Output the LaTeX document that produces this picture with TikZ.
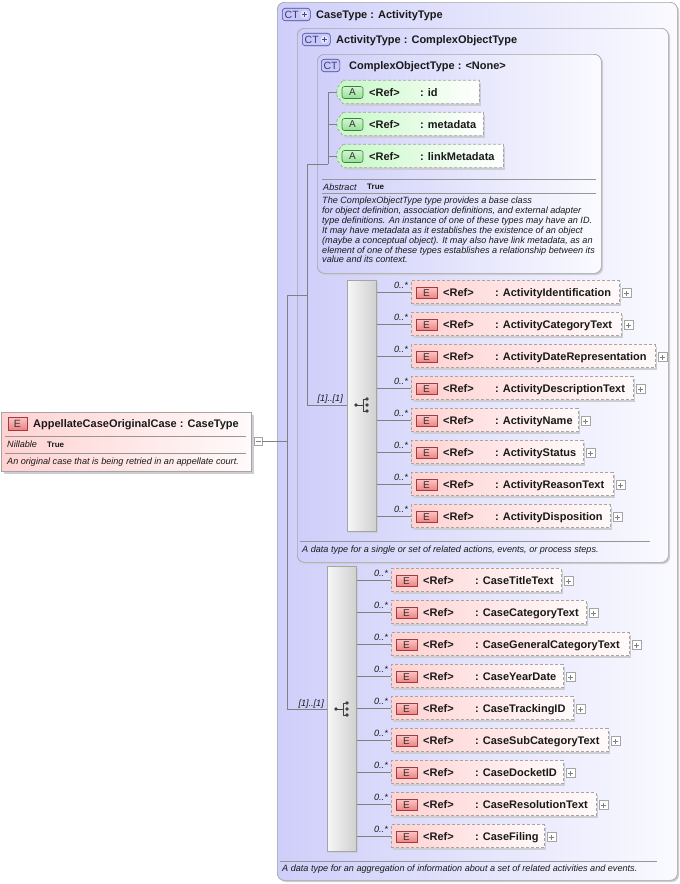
\documentclass[tikz,border=0pt]{standalone}
\usepackage{fontspec}
\setmainfont{Liberation Sans}
\usetikzlibrary{calc}
\definecolor{lav}{RGB}{206,206,250}
\definecolor{lavw}{RGB}{250,250,255}
\definecolor{pinkf}{RGB}{255,210,210}
\definecolor{pinkw}{RGB}{255,250,250}
\definecolor{greenf}{RGB}{198,248,198}
\definecolor{bord}{RGB}{165,165,165}
\definecolor{shad}{RGB}{205,205,210}
\definecolor{ebadgeT}{RGB}{252,196,196}
\definecolor{ebadgeB}{RGB}{238,130,130}
\definecolor{ebord}{RGB}{160,60,60}
\definecolor{abadgeT}{RGB}{210,246,210}
\definecolor{abadgeB}{RGB}{150,222,150}
\definecolor{abord}{RGB}{60,130,60}
\definecolor{ctf}{RGB}{200,200,248}
\definecolor{ctb}{RGB}{70,70,150}
\definecolor{linec}{RGB}{128,128,128}
\definecolor{sepc}{RGB}{150,150,150}
\definecolor{txt}{RGB}{25,25,25}
\definecolor{seqL}{RGB}{246,246,246}
\definecolor{seqR}{RGB}{208,208,208}
\begin{document}
\begin{tikzpicture}[x=1pt,y=-1pt,
  conn/.style={draw=linec, line width=0.7pt},
  sep/.style={draw=sepc, line width=0.7pt},
  typebox/.style={draw=bord, line width=0.7pt, rounded corners=7pt, left color=lav, right color=lavw, inner sep=0pt, anchor=north west},
  ebox/.style={draw=bord, line width=0.7pt, dash pattern=on 3pt off 2pt, left color=pinkf, right color=pinkw, inner sep=0pt, minimum height=23, anchor=west},
  ebadge/.style={draw=ebord, line width=0.6pt, top color=ebadgeT, bottom color=ebadgeB, minimum width=21, minimum height=11, inner sep=0pt, font=\fontsize{10}{10}\selectfont, text=black!80},
  abadge/.style={draw=abord, line width=0.6pt, rounded corners=2.5pt, top color=abadgeT, bottom color=abadgeB, minimum width=21, minimum height=12, inner sep=0pt, font=\fontsize{10}{10}\selectfont, text=black!80},
  ctbadge/.style={draw=ctb, line width=0.6pt, rounded corners=3pt, fill=ctf, minimum height=12.5, inner sep=0pt},
  cttext/.style={font=\fontsize{10.5}{10.5}\selectfont, text=ctb!80!black, inner sep=0pt},
  adash/.style={draw=bord, line width=0.7pt, dash pattern=on 3pt off 2pt, left color=greenf, right color=white},
  seqbox/.style={draw=bord, line width=0.7pt, left color=seqL, right color=seqR, inner sep=0pt, minimum width=29, anchor=north west},
  plusbox/.style={draw=bord, line width=0.5pt, fill=white, minimum size=9, inner sep=0pt},
  bold/.style={font=\fontsize{11}{13}\selectfont\bfseries, text=txt, inner sep=0pt},
  sbold/.style={font=\fontsize{8}{9}\selectfont\bfseries, text=txt, inner sep=0pt},
  ital/.style={font=\fontsize{9.1}{10}\selectfont\itshape, text=txt, inner sep=0pt},
  icon/.style={draw=black!75, line width=0.8pt}
]
\useasboundingbox (0,0) rectangle (680,884);
\fill[white] (0,0) rectangle (680,884);

% ---------- type boxes ----------
\fill[shad, rounded corners=7pt] (279,4) rectangle (679,882);
\node[typebox, minimum width=400, minimum height=878] (caseT) at (277,2) {};
\fill[shad, rounded corners=7pt] (299,30) rectangle (670,564);
\node[typebox, minimum width=371, minimum height=534] (actT) at (297,28) {};
\fill[shad, rounded corners=7pt] (319,56) rectangle (603,275);
\node[typebox, minimum width=284, minimum height=219] (cotT) at (317,54) {};

% headers
\node[ctbadge, minimum width=28, anchor=west] (ctb1) at (282,14.5) {};
\node[cttext, anchor=west] (ctt1) at (284.5,15) {CT};
\fill[white!50!ctf] (304.5,14.5) circle (4);
\draw[ctb, line width=1.6pt] (301.8,14.5) -- (307.2,14.5) (304.5,11.8) -- (304.5,17.2);
\node[bold, anchor=base west] (h1) at (316,18) {CaseType : ActivityType};

\node[ctbadge, minimum width=28, anchor=west] (ctb2) at (302,39.5) {};
\node[cttext, anchor=west] (ctt2) at (304.5,40) {CT};
\fill[white!50!ctf] (324.5,39.5) circle (4);
\draw[ctb, line width=1.6pt] (321.8,39.5) -- (327.2,39.5) (324.5,36.8) -- (324.5,42.2);
\node[bold, anchor=base west] (h2) at (336,43.5) {ActivityType : ComplexObjectType};

\node[ctbadge, minimum width=18.5, anchor=west] (ctb3) at (321,65.5) {};
\node[cttext] (ctt3) at ($(ctb3.center)+(0,0.5)$) {CT};
\node[bold, anchor=base west] (h3) at (349,69.5) {ComplexObjectType : <None>};

% ---------- connectors skeleton ----------
\coordinate (v1t) at (287,295);
\coordinate (v1b) at (287,709);
\coordinate (v2t) at (307,164);
\coordinate (v2m) at (307,295);
\coordinate (v2b) at (307,405);
\coordinate (v3t) at (328,92);
\coordinate (v3b) at (328,164);

% ---------- root element ----------
\fill[shad] (4,415) rectangle (254,474);
\node[draw=bord, line width=0.7pt, left color=pinkf, right color=pinkw, minimum width=250, minimum height=59, anchor=north west, inner sep=0pt] (root) at (1,412) {};
\node[ebadge, minimum width=19, minimum height=13, font=\fontsize{10.5}{10.5}\selectfont] (rootb) at (17.5,423.5) {E};
\node[bold, anchor=base west] (roott) at (33,427) {AppellateCaseOriginalCase : CaseType};
\draw[sep] (5,436) -- (246,436);
\node[ital, anchor=base west] (nil) at (7,447.5) {Nillable};
\node[sbold, anchor=base west] (nilv) at (47,447) {True};
\draw[sep] (5,453) -- (246,453);
\node[ital, anchor=base west] (rootd) at (7,464.5) {An original case that is being retried in an appellate court.};
\node[plusbox, minimum size=8] (minus) at (258,441) {};
\draw[linec, line width=0.6pt] (255.5,441) -- (260.5,441);

\draw[conn] (minus.east) -- (minus.east -| v1t);
\draw[conn] (v1t) -- (v1b);
\draw[conn] (v1t) -- (v2m);
\draw[conn] (v2t) -- (v2b);
\draw[conn] (v2t) -- (v3b);
\draw[conn] (v3t) -- (v3b);

% ---------- attributes ----------
\foreach \cy/\r/\nm/\k in {92/479/id/1, 124/483/metadata/2, 156/503/linkMetadata/3}{
  \node[inner sep=0pt, minimum width={\r-337}, minimum height=23, anchor=west] (aa\k) at (337,\cy) {};
  \fill[shad] (345,\cy-9.5) -- (\r+2,\cy-9.5) -- (\r+2,\cy+13.5) -- (345,\cy+13.5) -- cycle;
  \draw[adash] ($(aa\k.north west)+(6,0)$) -- (aa\k.north east) -- (aa\k.south east) -- ($(aa\k.south west)+(6,0)$) -- ($(aa\k.west)+(0,4)$) -- ($(aa\k.west)+(0,-4)$) -- cycle;
  \node[abadge] (ab\k) at (352.5,\cy+0.5) {A};
  \node[bold, anchor=base west] (ar\k) at (369,\cy+4) {<Ref>};
  \node[bold, anchor=base west] (an\k) at (420,\cy+4) {: \nm};
  \draw[conn] (v3t |- aa\k.west) -- (aa\k.west);
}

% abstract
\draw[sep] (322,179) -- (596,179);
\node[ital, anchor=base west] (abs) at (323,190) {Abstract};
\node[sbold, anchor=base west] (absv) at (367,189.5) {True};
\draw[sep] (322,193) -- (596,193);
\node[ital, anchor=base west] (d1) at (322,203.5) {The ComplexObjectType type provides a base class};
\node[ital, anchor=base west] (d2) at (322,213.4) {for object definition, association definitions, and external adapter};
\node[ital, anchor=base west] (d3) at (322,223.3) {type definitions. An instance of one of these types may have an ID.};
\node[ital, anchor=base west] (d4) at (322,233.2) {It may have metadata as it establishes the existence of an object};
\node[ital, anchor=base west] (d5) at (322,243.1) {(maybe a conceptual object). It may also have link metadata, as an};
\node[ital, anchor=base west] (d6) at (322,253) {element of one of these types establishes a relationship between its};
\node[ital, anchor=base west] (d7) at (322,262.9) {value and its context.};

% ---------- activity sequence ----------
\fill[shad] (349,282) rectangle (378,533);
\node[seqbox, minimum height=251] (seqA) at (347,280) {};
\node[ital, anchor=base east] (mA) at (343,401) {[1]..[1]};
\draw[conn] (v2b) -- (seqA.west |- v2b);
\coordinate (icA) at (362,405);
\draw[icon] ($(icA)+(-6,0)$) -- ($(icA)+(1,0)$) ($(icA)+(1,-6)$) -- ($(icA)+(1,6)$)
  ($(icA)+(1,-6)$) -- ($(icA)+(5,-6)$) ($(icA)+(1,6)$) -- ($(icA)+(5,6)$);
\fill[black!75] ($(icA)+(-6,0)$) circle (1.9) ($(icA)+(5,-6)$) circle (1.9) ($(icA)+(5,0)$) circle (1.9) ($(icA)+(5,6)$) circle (1.9);

\foreach \cy/\r/\nm/\k in {292/619/ActivityIdentification/1, 324/621/ActivityCategoryText/2, 356/655/ActivityDateRepresentation/3, 388/633/ActivityDescriptionText/4, 420/578/ActivityName/5, 452/583/ActivityStatus/6, 484/613/ActivityReasonText/7, 516/610/ActivityDisposition/8}{
  \fill[shad] (413,\cy-9.5) rectangle (\r+2,\cy+13.5);
  \node[ebox, minimum width={\r-411}] (ea\k) at (411,\cy) {};
  \node[ebadge] (eab\k) at (426.5,\cy+1) {E};
  \node[bold, anchor=base west] (ear\k) at (443,\cy+4) {<Ref>};
  \node[bold, anchor=base west] (ean\k) at (495,\cy+4) {: \nm};
  \node[plusbox] (eap\k) at (\r+7.5,\cy+1) {};
  \draw[linec, line width=0.5pt] ($(eap\k.center)+(-2.5,0)$) -- ($(eap\k.center)+(2.5,0)$) ($(eap\k.center)+(0,-2.5)$) -- ($(eap\k.center)+(0,2.5)$);
  \draw[conn] (seqA.east |- ea\k.west) -- (ea\k.west);
  \node[ital, anchor=base east] (eam\k) at (408,\cy-4) {0..*};
}

\draw[sep] (300,541) -- (650,541);
\node[ital, anchor=base west] (actd) at (302,552.5) {A data type for a single or set of related actions, events, or process steps.};

% ---------- case sequence ----------
\fill[shad] (329,568) rectangle (358,853);
\node[seqbox, minimum height=285] (seqC) at (327,566) {};
\node[ital, anchor=base east] (mC) at (324,706) {[1]..[1]};
\draw[conn] (v1b) -- (seqC.west |- v1b);
\coordinate (icC) at (342,709);
\draw[icon] ($(icC)+(-6,0)$) -- ($(icC)+(1,0)$) ($(icC)+(1,-6)$) -- ($(icC)+(1,6)$)
  ($(icC)+(1,-6)$) -- ($(icC)+(5,-6)$) ($(icC)+(1,6)$) -- ($(icC)+(5,6)$);
\fill[black!75] ($(icC)+(-6,0)$) circle (1.9) ($(icC)+(5,-6)$) circle (1.9) ($(icC)+(5,0)$) circle (1.9) ($(icC)+(5,6)$) circle (1.9);

\foreach \cy/\r/\nm/\k in {580/561/CaseTitleText/1, 612/586/CaseCategoryText/2, 644/629/CaseGeneralCategoryText/3, 676/563/CaseYearDate/4, 708/573/CaseTrackingID/5, 740/608/CaseSubCategoryText/6, 772/563/CaseDocketID/7, 804/596/CaseResolutionText/8, 836/544/CaseFiling/9}{
  \fill[shad] (393,\cy-9.5) rectangle (\r+2,\cy+13.5);
  \node[ebox, minimum width={\r-391}] (ec\k) at (391,\cy) {};
  \node[ebadge] (ecb\k) at (406.5,\cy+1) {E};
  \node[bold, anchor=base west] (ecr\k) at (423,\cy+4) {<Ref>};
  \node[bold, anchor=base west] (ecn\k) at (475,\cy+4) {: \nm};
  \node[plusbox] (ecp\k) at (\r+7.5,\cy+1) {};
  \draw[linec, line width=0.5pt] ($(ecp\k.center)+(-2.5,0)$) -- ($(ecp\k.center)+(2.5,0)$) ($(ecp\k.center)+(0,-2.5)$) -- ($(ecp\k.center)+(0,2.5)$);
  \draw[conn] (seqC.east |- ec\k.west) -- (ec\k.west);
  \node[ital, anchor=base east] (ecm\k) at (388,\cy-4) {0..*};
}

\draw[sep] (280,861) -- (657,861);
\node[ital, anchor=base west] (cased) at (282,871.5) {A data type for an aggregation of information about a set of related activities and events.};
\end{tikzpicture}
\end{document}
